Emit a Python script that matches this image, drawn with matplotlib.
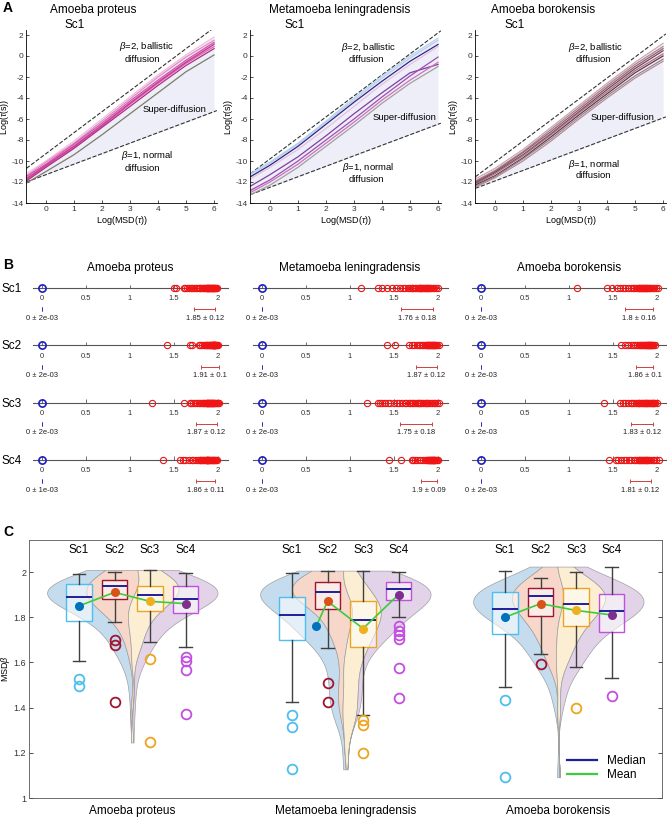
import matplotlib
matplotlib.use("Agg")
import matplotlib.pyplot as plt
import numpy as np
from matplotlib.lines import Line2D

plt.rcParams["font.family"] = ["Liberation Sans", "DejaVu Sans"]
plt.rcParams["mathtext.fontset"] = "custom"
plt.rcParams["mathtext.rm"] = "Liberation Sans"
plt.rcParams["mathtext.it"] = "Liberation Sans:italic"
plt.rcParams["axes.unicode_minus"] = False
plt.rcParams["axes.linewidth"] = 0.6

W, H = 667, 819

SPECIES = ["Amoeba proteus", "Metamoeba leningradensis", "Amoeba borokensis"]
SCENARIOS = ["Sc1", "Sc2", "Sc3", "Sc4"]

# ---- panel A: log-log curves, y values at A_X ----
A_X = [-0.7, 0, 1, 2, 3, 4, 5, 6]
A_PROTEUS = [
    [-11.2, -10.0, -8.1, -6.0, -3.9, -1.8, 0.1, 1.8],
    [-11.4, -10.1, -8.3, -6.2, -4.1, -2.0, -0.1, 1.5],
    [-11.5, -10.3, -8.4, -6.4, -4.3, -2.3, -0.4, 1.3],
    [-11.6, -10.4, -8.5, -6.5, -4.4, -2.4, -0.5, 1.2],
    [-11.8, -10.5, -8.7, -6.7, -4.6, -2.6, -0.7, 0.9],
    [-11.9, -10.6, -8.8, -6.8, -4.8, -2.8, -0.9, 0.7],
    [-11.7, -10.4, -8.6, -6.6, -4.5, -2.5, -0.6, 1.1],
    [-12.1, -11.0, -9.4, -7.5, -5.5, -3.5, -1.5, 0.1],
]
A_PROTEUS_COLORS = ["#f4bcdc", "#e48bc4", "#d04aa0", "#d888c0", "#e060b0",
                    "#b0307f", "#c8379a", "#7d7d6a"]
A_LENINGRADENSIS = [
    [-11.2, -10.1, -8.3, -6.2, -4.0, -1.9, 0.0, 1.7],
    [-11.3, -10.2, -8.4, -6.3, -4.2, -2.1, -0.2, 1.5],
    [-11.5, -10.4, -8.6, -6.5, -4.4, -2.4, -0.5, 1.1],
    [-11.7, -10.6, -8.9, -6.9, -4.8, -2.7, -0.8, 0.9],
    [-12.4, -11.3, -9.6, -7.6, -5.5, -3.5, -1.6, -0.8],
    [-12.8, -11.8, -10.0, -8.0, -6.0, -3.9, -1.9, -0.1],
    [-13.0, -12.0, -10.3, -8.3, -6.3, -4.2, -2.3, -0.6],
    [-13.2, -12.3, -10.6, -8.6, -6.6, -4.5, -2.6, -1.0],
]
A_LENINGRADENSIS_COLORS = ["#a8d8f0", "#c8c8e8", "#2a2a8a", "#e8c0e0", "#8040a0",
                           "#9a50b0", "#d070b8", "#a0a0a0"]
A_BOROKENSIS = [
    [-11.7, -10.7, -8.9, -6.8, -4.7, -2.6, -0.6, 1.2],
    [-11.9, -10.9, -9.1, -7.0, -4.9, -2.8, -0.8, 0.9],
    [-12.0, -11.0, -9.2, -7.2, -5.1, -3.0, -1.0, 0.7],
    [-12.1, -11.1, -9.4, -7.4, -5.3, -3.2, -1.2, 0.5],
    [-12.2, -11.2, -9.5, -7.5, -5.4, -3.4, -1.4, 0.2],
    [-12.3, -11.4, -9.7, -7.7, -5.6, -3.6, -1.6, 0.0],
    [-12.4, -11.5, -9.8, -7.9, -5.8, -3.8, -1.9, -0.3],
    [-12.5, -11.6, -10.0, -8.1, -6.0, -4.0, -2.1, -0.5],
]
A_BOROKENSIS_COLORS = ["#c9a9b0", "#b08592", "#94606f", "#7a4556", "#a57080",
                       "#6a3545", "#8a8a8a", "#c08898"]
# guide lines: beta=2 -> y = 2x + b, beta=1 -> y = x + b
A_BALLISTIC_B = [-9.3, -9.8, -10.1]
A_NORMAL_B = [-11.3, -12.5, -11.9]

# ---- panel B: beta values per scenario ----
BETA_PROTEUS = [
    [1.497, 1.525, 1.608, 1.63, 1.65, 1.67, 1.69, 1.71, 1.73, 1.75, 1.76, 1.78, 1.79, 1.80,
     1.82, 1.83, 1.84, 1.85, 1.86, 1.87, 1.88, 1.88, 1.89, 1.89, 1.90, 1.90, 1.91, 1.91,
     1.92, 1.92, 1.93, 1.93, 1.94, 1.94, 1.95, 1.95, 1.96, 1.97, 1.98, 1.99],
    [1.426, 1.677, 1.699, 1.78, 1.80, 1.82, 1.84, 1.85, 1.86, 1.87, 1.88, 1.89, 1.90, 1.91,
     1.91, 1.92, 1.92, 1.93, 1.93, 1.94, 1.94, 1.94, 1.95, 1.95, 1.95, 1.96, 1.96, 1.96,
     1.97, 1.97, 1.98, 1.98, 1.99, 2.0],
    [1.246, 1.614, 1.68, 1.692, 1.72, 1.74, 1.76, 1.78, 1.80, 1.82, 1.83, 1.84, 1.85, 1.86,
     1.87, 1.88, 1.88, 1.89, 1.89, 1.90, 1.90, 1.91, 1.91, 1.92, 1.92, 1.93, 1.93, 1.94,
     1.94, 1.95, 1.96, 1.97, 1.98, 1.99, 2.0, 2.009],
    [1.37, 1.566, 1.606, 1.625, 1.667, 1.70, 1.72, 1.75, 1.77, 1.79, 1.80, 1.81, 1.82, 1.83,
     1.84, 1.85, 1.86, 1.87, 1.87, 1.88, 1.88, 1.89, 1.89, 1.90, 1.90, 1.91, 1.92, 1.93,
     1.93, 1.94, 1.95, 1.96, 1.97, 1.98, 1.994],
]
BETA_LENINGRADENSIS = [
    [1.127, 1.313, 1.367, 1.425, 1.48, 1.52, 1.57, 1.60, 1.63, 1.66, 1.68, 1.70, 1.71, 1.72,
     1.74, 1.75, 1.77, 1.78, 1.79, 1.80, 1.81, 1.82, 1.83, 1.84, 1.85, 1.86, 1.87, 1.88,
     1.89, 1.90, 1.91, 1.92, 1.94, 1.96, 1.98, 1.995],
    [1.423, 1.51, 1.665, 1.70, 1.73, 1.76, 1.78, 1.80, 1.82, 1.835, 1.85, 1.86, 1.87, 1.88,
     1.89, 1.90, 1.90, 1.91, 1.91, 1.92, 1.93, 1.93, 1.94, 1.95, 1.957, 1.96, 1.97, 1.98,
     1.99, 2.006],
    [1.198, 1.323, 1.345, 1.367, 1.40, 1.43, 1.46, 1.50, 1.53, 1.56, 1.59, 1.62, 1.64, 1.666,
     1.68, 1.70, 1.72, 1.74, 1.76, 1.77, 1.788, 1.80, 1.81, 1.83, 1.85, 1.86, 1.873, 1.89,
     1.91, 1.93, 1.95, 1.97, 1.99, 2.006],
    [1.441, 1.574, 1.702, 1.721, 1.74, 1.761, 1.80, 1.83, 1.85, 1.876, 1.88, 1.89, 1.90, 1.90,
     1.91, 1.91, 1.92, 1.923, 1.93, 1.93, 1.94, 1.94, 1.95, 1.957, 1.96, 1.97, 1.98, 1.99,
     1.998],
]
BETA_BOROKENSIS = [
    [1.092, 1.434, 1.49, 1.55, 1.58, 1.61, 1.64, 1.67, 1.70, 1.726, 1.74, 1.76, 1.78, 1.79,
     1.80, 1.81, 1.82, 1.83, 1.836, 1.84, 1.85, 1.86, 1.87, 1.88, 1.89, 1.90, 1.91, 1.92,
     1.93, 1.95, 1.97, 1.99, 2.006],
    [1.592, 1.636, 1.67, 1.70, 1.73, 1.75, 1.77, 1.79, 1.805, 1.82, 1.83, 1.84, 1.85, 1.86,
     1.87, 1.88, 1.885, 1.894, 1.90, 1.905, 1.91, 1.915, 1.92, 1.928, 1.935, 1.94, 1.95,
     1.96, 1.975],
    [1.397, 1.581, 1.61, 1.64, 1.67, 1.70, 1.72, 1.74, 1.762, 1.78, 1.79, 1.80, 1.82, 1.83,
     1.84, 1.85, 1.858, 1.87, 1.88, 1.89, 1.90, 1.91, 1.92, 1.928, 1.94, 1.95, 1.96, 1.97,
     1.98, 1.998],
    [1.451, 1.53, 1.56, 1.59, 1.62, 1.65, 1.68, 1.71, 1.733, 1.75, 1.77, 1.79, 1.80, 1.81,
     1.82, 1.827, 1.84, 1.85, 1.86, 1.87, 1.88, 1.89, 1.903, 1.91, 1.93, 1.95, 1.97, 1.99,
     2.024],
]
MEANS = [[1.85, 1.91, 1.87, 1.86], [1.76, 1.87, 1.75, 1.9], [1.8, 1.86, 1.83, 1.81]]
STDS = [[0.12, 0.1, 0.12, 0.11], [0.18, 0.12, 0.18, 0.09], [0.16, 0.1, 0.12, 0.12]]
ZERO_ERR = [[2e-3, 2e-3, 2e-3, 1e-3], [2e-3, 2e-3, 2e-3, 2e-3], [2e-3, 2e-3, 2e-3, 2e-3]]

# ---- panel C: box statistics ----
BOX_Q1 = [[1.783, 1.879, 1.829, 1.82], [1.70, 1.835, 1.666, 1.876], [1.726, 1.805, 1.762, 1.733]]
BOX_MED = [[1.891, 1.939, 1.898, 1.882], [1.81, 1.91, 1.788, 1.923], [1.836, 1.894, 1.858, 1.827]]
BOX_Q3 = [[1.945, 1.965, 1.938, 1.938], [1.89, 1.957, 1.873, 1.957], [1.91, 1.928, 1.928, 1.903]]
WHISK_LO = [[1.608, 1.78, 1.692, 1.667], [1.425, 1.665, 1.367, 1.80], [1.49, 1.636, 1.581, 1.53]]
WHISK_HI = [[1.991, 2.0, 2.009, 1.994], [1.995, 2.006, 2.006, 1.998], [2.006, 1.975, 1.998, 2.024]]
OUTLIERS = [
    [[1.497, 1.525], [1.426, 1.677, 1.699], [1.246, 1.614], [1.37, 1.566, 1.606, 1.625]],
    [[1.127, 1.313, 1.367], [1.423, 1.51], [1.198, 1.323, 1.345],
     [1.441, 1.574, 1.702, 1.721, 1.74, 1.761]],
    [[1.092, 1.434], [1.592], [1.397], [1.451]],
]

MEAN_COLORS = ["#0072BD", "#D95319", "#EDB120", "#7E2F8E"]
BOX_COLORS = ["#4DBEEE", "#A2142F", "#EDA520", "#C24FE0"]
FILL_COLORS = ["#c4dcee", "#f6d7ca", "#fbeed2", "#e2d3e8"]
MEDIAN_COLOR = "#1f1f99"
MEAN_LINE_COLOR = "#3ccc3c"

fig = plt.figure(figsize=(W / 100, H / 100), dpi=100)


def px_axes(left, top, right, bottom):
    return fig.add_axes([left / W, 1 - bottom / H, (right - left) / W, (bottom - top) / H])


def fig_text(x, y, s, **kw):
    fig.text(x / W, 1 - y / H, s, **kw)


# ================= Panel A =================
a_lines = [A_PROTEUS, A_LENINGRADENSIS, A_BOROKENSIS]
a_colors = [A_PROTEUS_COLORS, A_LENINGRADENSIS_COLORS, A_BOROKENSIS_COLORS]
a_left = [26.4, 250.4, 475.4]
title_x = [93, 340, 543]
sc_x = [75, 295, 515]
label_pos = [
    [(3.6, 0.95), (3.45, -0.3), (4.6, -5.05), (3.6, -9.5), (3.45, -10.7)],
    [(3.5, 0.85), (3.45, -0.35), (4.8, -5.9), (3.5, -10.6), (3.45, -11.8)],
    [(3.6, 0.85), (3.5, -0.35), (4.55, -5.9), (3.55, -10.3), (3.5, -11.4)],
]
label_txt = [r"$\beta$=2, ballistic", "diffusion", "Super-diffusion",
             r"$\beta$=1, normal", "diffusion"]
xs = np.array(A_X)
for i in range(3):
    ax = px_axes(a_left[i], 29.75, a_left[i] + 191, 203)
    ax.set_xlim(-0.7, 6.12)
    ax.set_ylim(-14, 2.5)
    lines = np.array(a_lines[i])
    guide_x = np.array([-0.7, 6.1])
    lo_guide = xs + A_NORMAL_B[i]
    ax.fill_between(xs, lo_guide, lines.max(axis=0), color="#eeeef8", lw=0, zorder=0)
    ax.plot(guide_x, 2 * guide_x + A_BALLISTIC_B[i], "--", color="#333333", lw=0.8)
    ax.plot(guide_x, guide_x + A_NORMAL_B[i], "--", color="#333333", lw=0.8)
    for ys, c in zip(lines, a_colors[i]):
        ax.plot(xs, ys, color=c, lw=0.9)
    for (px, py), s in zip(label_pos[i], label_txt):
        ax.text(px, py, s, ha="center", va="center", fontsize=6.8)
    ax.set_xticks(range(0, 7))
    ax.set_yticks(range(-14, 3, 2))
    ax.tick_params(direction="in", length=2.5, width=0.6, labelsize=6, pad=2,
                   colors="#333333")
    for side in ["top", "right"]:
        ax.spines[side].set_visible(False)
    ax.set_xlabel(r"Log(MSD($\tau$))", fontsize=6.5, labelpad=1)
    ax.set_ylabel(r"Log($\tau$(s))", fontsize=6.5, labelpad=0)
    fig_text(title_x[i], 10, SPECIES[i], ha="center", va="center", fontsize=8.5)
    fig_text(sc_x[i], 25, "Sc1", ha="center", va="center", fontsize=8.5)

# ================= Panel B =================
betas = [BETA_PROTEUS, BETA_LENINGRADENSIS, BETA_BOROKENSIS]
b_x0 = [42, 262, 481]
row_px = 57.3
ticks = [0, 0.5, 1, 1.5, 2]
for i in range(3):
    scale = 88
    ax = px_axes(b_x0[i] - 0.15 * scale, 288 - 0.5 * row_px, b_x0[i] + 2.1 * scale,
                 288 + 3.7 * row_px)
    ax.set_xlim(-0.15, 2.1)
    ax.set_ylim(-3.7, 0.5)
    ax.axis("off")
    ax.text(1.0, 0.35, SPECIES[i], ha="center", va="center", fontsize=8.5)
    for r in range(4):
        y = -r
        ax.plot([-0.1, 2.11], [y, y], color="#555555", lw=0.8, clip_on=False, zorder=1)
        ax.vlines(ticks, y, y + 0.06, color="#555555", lw=0.6)
        for t in ticks:
            ax.text(t, y - 0.19, f"{t:g}", ha="center", va="center", fontsize=5.5,
                    color="#333333")
        vals = betas[i][r]
        ax.plot(vals, [y] * len(vals), "o", mfc="none", mec="#f01414", ms=4.5, mew=0.8,
                clip_on=False, zorder=2)
        ax.plot([0], [y], "o", mfc="none", mec="#1c1cc8", ms=5.2, mew=1.2, zorder=3)
        ax.errorbar([0], [y - 0.37], xerr=[ZERO_ERR[i][r]], color="#3030c0", lw=0.7,
                    capsize=1.5, capthick=0.7)
        ax.errorbar([MEANS[i][r]], [y - 0.37], xerr=[STDS[i][r]], color="#d04040", lw=0.7,
                    capsize=1.5, capthick=0.7, clip_on=False)
        ax.text(0, y - 0.53, f"0 ± {ZERO_ERR[i][r]:.0e}", ha="center", va="center",
                fontsize=5.5, color="#222222")
        ax.text(MEANS[i][r], y - 0.53, f"{MEANS[i][r]:g} ± {STDS[i][r]:g}", ha="center",
                va="center", fontsize=5.5, color="#222222", clip_on=False)
for r, sc in enumerate(SCENARIOS):
    fig_text(2, 289 + r * row_px, sc, ha="left", va="center", fontsize=8.5)

# ================= Panel C =================
axc = px_axes(29, 540, 662, 798)
axc.set_xlim(-0.41, 17.42)
axc.set_ylim(1.0, 2.1416)
group_pos = [[1, 2, 3, 4], [7, 8, 9, 10], [13, 14, 15, 16]]
mean_shift = [[0, 0, 0, 0], [0.68, 0, 0, 0], [0, 0, 0, 0]]


def kde(values, grid, bw):
    v = np.asarray(values)[:, None]
    return np.exp(-0.5 * ((grid[None, :] - v) / bw) ** 2).sum(axis=0) / (
        len(values) * bw * np.sqrt(2 * np.pi))


for g in range(3):
    center = np.mean(group_pos[g])
    allv = np.concatenate([np.asarray(v) for v in betas[g]])
    grid = np.linspace(allv.min(), allv.max(), 400)
    dens = [kde(v, grid, 0.07) for v in betas[g]]
    total = np.sum(dens, axis=0)
    k = 4.8 / total.max()
    cum = center - total * k / 2
    for d, fc in zip(dens, FILL_COLORS):
        right = cum + d * k
        axc.fill_betweenx(grid, cum, right, facecolor=fc, edgecolor="#a0a0a0", lw=0.5,
                          zorder=1)
        cum = right

    for s in range(4):
        st = dict(med=BOX_MED[g][s], q1=BOX_Q1[g][s], q3=BOX_Q3[g][s],
                  whislo=WHISK_LO[g][s], whishi=WHISK_HI[g][s], fliers=OUTLIERS[g][s])
        axc.bxp([st], positions=[group_pos[g][s]], widths=0.72, capwidths=0.36,
                patch_artist=True, showfliers=True, manage_ticks=False,
                boxprops=dict(facecolor=(1, 1, 1, 0.55), edgecolor=BOX_COLORS[s], lw=1.0),
                medianprops=dict(color=MEDIAN_COLOR, lw=1.4),
                whiskerprops=dict(color="#404040", lw=1.0),
                capprops=dict(color="#404040", lw=1.0),
                flierprops=dict(marker="o", mfc="none", mec=BOX_COLORS[s], ms=7, mew=1.3),
                zorder=2)
        axc.text(group_pos[g][s], 2.097, SCENARIOS[s], ha="center", va="center",
                 fontsize=8.5)
    mx = np.array(group_pos[g]) + np.array(mean_shift[g])
    axc.plot(mx, MEANS[g], color=MEAN_LINE_COLOR, lw=1.2, zorder=3)
    for s in range(4):
        axc.plot(mx[s], MEANS[g][s], "o", color=MEAN_COLORS[s], ms=5.5, zorder=4)
    axc.text(center, -0.05, SPECIES[g], transform=axc.get_xaxis_transform(), ha="center",
             va="center", fontsize=8.5)

yt = [1, 1.2, 1.4, 1.6, 1.8, 2]
axc.set_yticks(yt)
axc.set_yticklabels([f"{v:g}" for v in yt])
axc.set_xticks([])
axc.tick_params(axis="y", direction="in", length=3, width=0.6, labelsize=6.5, right=True,
                colors="#333333", pad=2)
for sp in axc.spines.values():
    sp.set_color("#555555")
axc.set_ylabel(r"MSD$\beta$", fontsize=6.5, labelpad=1)
handles = [Line2D([], [], color=MEDIAN_COLOR, lw=1.6),
           Line2D([], [], color=MEAN_LINE_COLOR, lw=1.6)]
axc.legend(handles, ["Median", "Mean"], loc="lower right", frameon=False, fontsize=8.5,
           handlelength=2.6, borderaxespad=1.0, labelspacing=0.2)

for letter, y in [("A", 8), ("B", 265), ("C", 532)]:
    fig_text(3, y, letter, ha="left", va="center", fontsize=10, fontweight="bold")

fig.savefig("out.png", dpi=100)
